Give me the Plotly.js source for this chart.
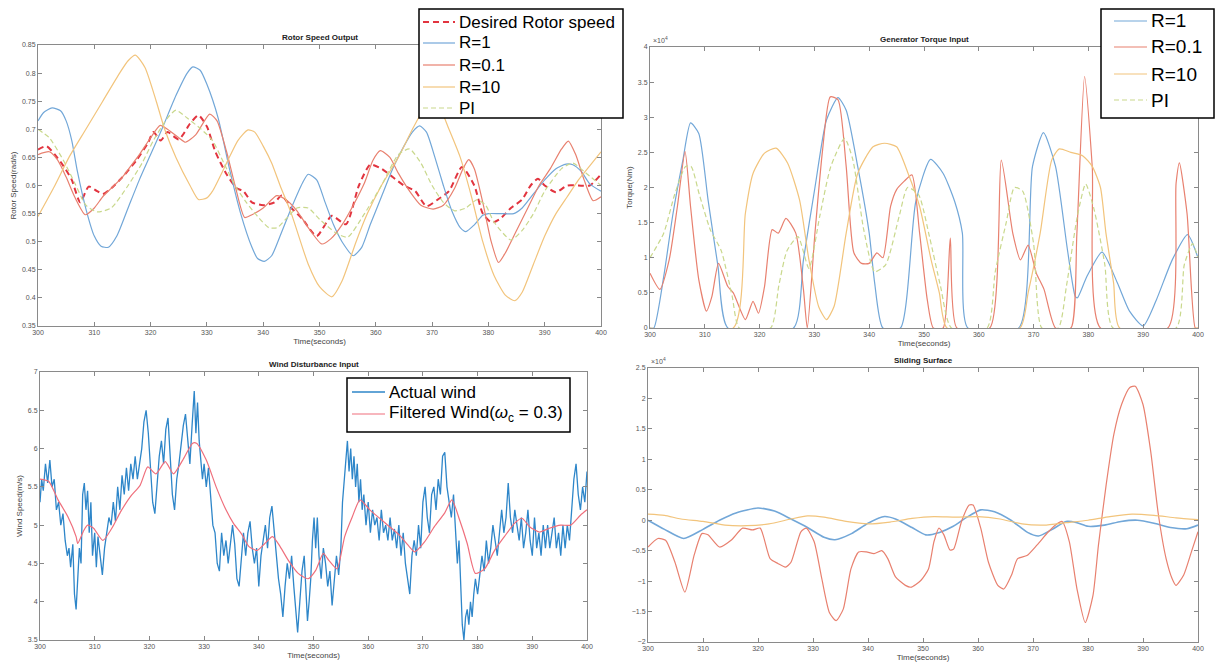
<!DOCTYPE html>
<html>
<head>
<meta charset="utf-8">
<script src="https://cdn.plot.ly/plotly-3.0.1.min.js"></script>
<style>html,body{margin:0;padding:0;background:#fff}#chart{width:1215px;height:671px}</style>
</head>
<body>
<div id="chart"></div>
<script>
// ---------- Rotor Speed Output (rad/s) ----------
const rotorDesiredT = [300,301.5,303,304.5,306,307.5,309,310.5,311.5,313,315,317.5,319.5,320.5,321.8,323,325,327,328.5,330,331.5,333.5,335.3,336.5,338,340,342,343.3,345,347,349.5,352.2,354.7,357,359,361,363,365,367,369,371,373,375.3,377.5,379,380.6,382,384,386,387.5,388.8,390,392,394,396,398,400];
const rotorDesired  = [0.664,0.67,0.655,0.635,0.61,0.57,0.598,0.59,0.585,0.595,0.615,0.645,0.675,0.695,0.68,0.695,0.682,0.71,0.725,0.705,0.66,0.62,0.595,0.59,0.57,0.565,0.57,0.582,0.56,0.54,0.51,0.546,0.531,0.6,0.637,0.63,0.615,0.6,0.59,0.563,0.575,0.59,0.633,0.6,0.55,0.534,0.54,0.56,0.575,0.6,0.612,0.6,0.588,0.6,0.6,0.6,0.62];
const rotorR1T = [300,301,302.5,304,305,306,307,308.6,310,311.2,312.5,314,316,318,320,322,324.5,326.5,327.5,328.8,330,332,334,336,338,339,340.2,341.5,343,345,347,348,349.5,351,352.5,354,356,357.5,359,361,363,365,366.5,367.8,369,370.5,372,373.5,375,376,377.5,379,380,382,384.5,386,388,390,392,393.8,395,396.5,398,400];
const rotorR1  = [0.715,0.73,0.738,0.733,0.715,0.68,0.625,0.555,0.51,0.492,0.49,0.51,0.56,0.61,0.655,0.7,0.76,0.8,0.811,0.805,0.78,0.72,0.63,0.55,0.49,0.47,0.465,0.475,0.51,0.56,0.605,0.62,0.61,0.57,0.53,0.5,0.475,0.49,0.53,0.58,0.63,0.67,0.695,0.706,0.695,0.65,0.6,0.555,0.525,0.518,0.53,0.547,0.55,0.55,0.55,0.56,0.585,0.61,0.63,0.638,0.637,0.625,0.603,0.59];
const rotorR01T = [300,302,303.5,305,306.5,308.4,310,311.5,313,315,316.5,318,320,321.7,323,325,326.2,328,330.5,331.8,333.5,335,336.7,338,340,342.4,344,346,348,350.4,352,354,356,358,359.5,360.8,362.5,364,366,368,370.2,372,374,375.5,376.5,377.5,379,380.5,381.8,383,385,387,389,391,393,394.2,395.5,397,398.6,400];
const rotorR01  = [0.655,0.66,0.645,0.615,0.58,0.548,0.56,0.58,0.595,0.615,0.635,0.655,0.685,0.707,0.7,0.685,0.677,0.69,0.727,0.715,0.66,0.6,0.543,0.548,0.56,0.582,0.575,0.555,0.525,0.496,0.505,0.53,0.565,0.605,0.645,0.662,0.65,0.622,0.59,0.565,0.558,0.565,0.595,0.63,0.646,0.63,0.57,0.5,0.463,0.48,0.52,0.56,0.6,0.63,0.665,0.679,0.655,0.61,0.573,0.58];
const rotorR10T = [300,303,305.5,308.5,311.5,314.5,316,317.3,319,321,322.5,324.5,327,328.5,330,331,333.5,335.5,337.3,338.5,340,341.5,343,345,348,350,352.2,354,356.5,358.5,361,364,366.5,368.5,370,371.5,373,375,377,379,381,383,384.7,386,388,390,392,394,396,398,400];
const rotorR10  = [0.545,0.6,0.65,0.7,0.75,0.8,0.822,0.832,0.81,0.75,0.7,0.65,0.6,0.575,0.578,0.59,0.64,0.68,0.699,0.695,0.67,0.64,0.6,0.55,0.46,0.42,0.402,0.43,0.5,0.55,0.6,0.65,0.7,0.735,0.745,0.735,0.7,0.65,0.58,0.5,0.44,0.405,0.395,0.41,0.46,0.51,0.55,0.58,0.61,0.635,0.66];
const rotorPIT = [300,302,304.5,306.5,308.5,310.5,313,316,318.5,320.5,323,324.5,326.5,329,331,333,335,337,339,341,342.5,344,346,348,350,353,355,358,361,364,366,368,370,372,374,376,378,379.5,381,384,386,388,390,393,395,397,400];
const rotorPI  = [0.7,0.685,0.645,0.605,0.565,0.553,0.56,0.6,0.64,0.68,0.72,0.734,0.72,0.7,0.68,0.64,0.6,0.57,0.545,0.525,0.525,0.54,0.56,0.56,0.54,0.515,0.508,0.55,0.6,0.655,0.665,0.64,0.6,0.57,0.555,0.56,0.575,0.565,0.535,0.503,0.52,0.55,0.59,0.63,0.64,0.625,0.6];

// ---------- Generator Torque Input (x10^4 Nm) ----------
const torqR1T = [300,300.7,302.5,304.2,306,307.4,308.9,310.6,312.4,314.2,326.2,328,330.1,332.2,334.3,335.8,337.9,340,341,342.5,345.7,348.5,351.2,353.5,355.6,357,358,367.3,369.8,371.8,374,376.2,377.6,378,379.7,382.5,385.3,387.5,390,392.4,395.3,398.1,400];
const torqR1  = [0,0,0.73,1.63,2.39,2.92,2.77,1.82,0.88,0,0,0.97,2.0,2.96,3.28,3.1,2.3,1.35,0.64,0,0,1.8,2.4,2.2,1.8,1.35,0,0,2.3,2.78,2.3,1.1,0.45,0.43,0.73,1.08,0.64,0.24,0.03,0.4,0.97,1.33,1.0];
const torqR01T = [300,301.8,303.5,305,306.4,307.4,308.9,310.3,311.3,312.5,314.2,315.2,317.4,318.8,319.8,320.9,322.3,323.4,324.8,326.6,328,328.7,330.1,331.5,332.9,334.3,335.8,337.2,338.6,340,341.4,342.5,343.9,345,346.4,347.8,349.2,350.6,351.7,353.5,354.8,356,362,364.1,366.2,367.6,369,370.5,371.9,374,376.8,377.9,379.3,380.7,382.2,394.5,396,396.6,398,399.5,400];
const torqR01  = [0.78,0.55,0.97,1.73,2.51,1.73,0.69,0.24,0.45,0.92,0.59,0.5,0.12,0.38,0.21,0.59,1.4,1.35,1.56,1.35,0.55,0,1.35,2.54,3.29,3.25,2.3,1.07,0.92,0.92,1.07,1.0,1.73,1.97,2.09,2.18,1.35,0.4,0,0,1.28,0,0,2.39,1.35,0.97,1.18,0.78,0.55,0,0,1.35,3.58,2.3,0,0,2.06,2.35,1.63,0,0];
const torqR10T = [300,315.2,317.4,318.8,320.9,323,325.1,327.3,329,330.8,332.2,333.6,335.8,337.9,340.7,342.8,345,347.1,349.2,351.3,352.8,354.2,367.5,369,371.2,373.3,374.7,376.8,379,380.7,382.2,383.2,384.6,385.7,400];
const torqR10  = [0,0,1.63,2.2,2.49,2.56,2.35,1.82,0.97,0.3,0.12,0.31,1.35,2.2,2.58,2.63,2.58,2.2,1.73,0.97,0.5,0,0,0.5,1.35,2.39,2.55,2.5,2.45,2.3,2.0,1.35,0.64,0,0];
const torqPIT = [300,302.5,304.5,306.5,307.5,309,311,313,315,316.3,322,323.5,325,327,329,331,333,335.5,337,339,341,343,345.5,347,349,351,353,355,361.5,363,365,366.5,368,370,371.5,374.5,376,378,379.5,381,383,384.5,396,397.5,399,400];
const torqPI  = [1.0,1.35,1.9,2.3,2.3,1.9,1.4,1.1,0.45,0,0,0.6,1.1,1.3,0.85,1.6,2.3,2.7,2.4,1.4,0.8,0.9,1.6,2.0,1.9,1.3,0.6,0,0,0.8,1.5,2.0,1.95,1.2,0,0,0.6,1.6,2.05,1.7,0.9,0,0,0.9,1.2,1.0];

// ---------- Wind Disturbance Input (m/s) ----------
const windT = [300,300.3,300.6,301,301.4,301.8,302.2,302.6,303,303.4,303.8,304.2,304.6,305,305.3,305.6,306,306.3,306.6,306.9,307.2,307.5,307.8,308.1,308.4,308.7,309,309.3,309.6,310,310.3,310.6,311,311.4,311.8,312.2,312.6,313,313.4,313.8,314.2,314.6,315,315.4,315.8,316.2,316.6,317,317.4,317.8,318.2,318.6,319,319.4,319.8,320.2,320.6,321,321.4,321.8,322.2,322.6,323,323.4,323.8,324.2,324.6,325,325.4,325.8,326.2,326.6,327,327.4,327.8,328.2,328.5,328.8,329.1,329.4,329.7,330,330.4,330.8,331.2,331.6,332,332.4,332.8,333.2,333.6,334,334.4,334.8,335.2,335.6,336,336.4,336.8,337.2,337.6,338,338.4,338.8,339.2,339.6,340,340.4,340.8,341.2,341.6,342,342.4,342.8,343.2,343.6,344,344.4,344.8,345.2,345.6,346,346.4,346.8,347.1,347.5,347.9,348.3,348.6,348.9,349.2,349.5,349.8,350.1,350.4,350.7,351,351.4,351.8,352.2,352.6,353,353.4,353.8,354.2,354.6,355,355.3,355.6,355.9,356.2,356.5,356.8,357.1,357.4,357.7,358,358.3,358.6,358.9,359.2,359.6,360,360.4,360.8,361.2,361.6,362,362.4,362.8,363.2,363.6,364,364.4,364.8,365.2,365.6,366,366.4,366.8,367.2,367.6,368,368.4,368.8,369.2,369.6,370,370.4,370.8,371.2,371.6,372,372.4,372.8,373.2,373.6,374,374.4,374.8,375.2,375.6,376,376.3,376.6,376.9,377.2,377.5,377.8,378.1,378.4,378.7,379,379.3,379.6,380,380.4,380.8,381.2,381.6,382,382.4,382.8,383.2,383.6,384,384.4,384.8,385.2,385.6,386,386.4,386.8,387.2,387.6,388,388.4,388.8,389.2,389.6,390,390.4,390.8,391.2,391.6,392,392.4,392.8,393.2,393.6,394,394.4,394.8,395.2,395.6,396,396.4,396.8,397.2,397.6,398,398.4,398.8,399.2,399.6,400];
const windActual = [5.3,5.6,5.45,5.8,5.55,5.85,5.5,5.6,5.2,5.3,5.0,5.15,4.8,4.6,4.7,4.45,4.75,4.1,3.9,4.3,4.7,4.5,5.4,5.55,5.2,5.45,4.9,5.3,4.6,4.9,4.45,4.85,4.6,4.35,4.7,4.9,5.1,5.0,5.3,5.05,5.5,5.2,5.65,5.4,5.75,5.45,5.8,5.6,5.9,5.6,5.8,6.0,6.35,6.5,6.2,5.8,5.3,5.15,5.6,5.9,6.1,5.8,6.25,6.4,5.9,5.4,5.2,5.6,5.8,6.05,6.3,6.45,6.1,5.8,6.3,6.75,6.2,6.6,6.1,5.8,5.6,5.8,5.5,5.75,5.3,5.0,4.9,4.5,4.4,4.9,4.6,4.8,4.5,4.75,5.0,4.75,4.3,4.2,4.6,4.9,4.6,4.9,5.05,4.7,4.5,4.7,4.2,4.6,4.8,5.0,4.7,5.1,5.25,4.9,4.6,4.3,4.1,3.8,4.2,4.5,4.3,4.6,4.2,3.9,3.6,4.0,4.4,4.6,4.2,3.75,4.0,4.3,4.8,5.1,4.7,5.1,4.6,4.3,4.7,4.5,4.2,4.4,3.95,4.3,4.6,4.35,4.7,5.3,5.6,5.9,6.1,5.7,6.0,5.6,5.9,5.5,5.8,5.3,5.6,5.2,5.4,5.0,5.3,4.9,5.2,5.0,5.1,4.8,5.2,4.9,5.0,4.8,5.1,4.8,4.95,4.7,5.0,4.6,4.9,4.5,4.3,4.1,4.6,4.8,4.6,5.0,4.7,5.3,5.5,5.1,4.9,5.4,5.5,5.2,5.6,5.4,5.9,5.95,5.5,5.3,5.1,5.4,4.8,4.5,4.8,4.2,3.7,3.5,3.8,3.9,3.7,4.0,3.8,4.1,4.3,4.1,4.4,4.6,4.4,4.8,4.5,4.7,5.0,4.8,4.6,4.9,5.2,4.9,5.1,5.55,5.1,4.9,5.2,5.0,4.8,5.1,4.7,4.9,5.2,4.8,4.6,5.1,4.7,4.9,4.6,5.0,4.7,5.0,4.7,4.9,5.1,4.7,4.9,4.6,5.0,4.7,5.0,4.8,5.2,5.6,5.8,5.4,5.2,5.5,5.3,5.7];
const windFiltT = [300,301.6,303.3,305.1,306.6,306.9,308,308.7,309.8,311.5,313.3,314.7,316.5,318.3,319.7,321.2,322.9,324.4,326.1,327.9,328.6,330.4,332.2,334,335.4,336.8,338.2,339.7,341.1,342.5,343.9,345.4,347.2,349,350.4,351.8,352.8,354.3,355.7,357.1,358.5,360.3,362.1,363.9,365.7,367.5,368.5,370.3,372.1,373.9,375.3,376.7,378.1,379.6,381.3,383.1,384.9,386.7,388.1,389.5,391.3,393.1,395.2,397,398.8,400];
const windFiltered = [5.6,5.57,5.33,5.11,4.85,4.76,4.93,5.0,4.96,4.8,4.98,5.17,5.37,5.52,5.76,5.67,5.83,5.67,5.85,6.07,6.07,5.85,5.5,5.2,5.02,4.89,4.72,4.67,4.76,4.85,4.72,4.54,4.37,4.3,4.41,4.63,4.54,4.43,4.85,5.11,5.33,5.2,5.09,4.98,4.87,4.72,4.65,4.78,4.98,5.15,5.33,5.07,4.76,4.37,4.43,4.67,4.85,5.02,5.09,4.98,4.91,4.96,5.0,5.0,5.13,5.2];

// ---------- Sliding Surface (x10^4) ----------
const slideR01T = [300,301.8,303.2,304.9,306.7,308.4,309.8,310.9,313,315.1,317.2,319,320.4,322.2,323.6,325,326,327.8,328.8,330.2,331.6,333,334.2,335.5,336.9,338.3,339.7,341.1,342.5,343.6,345,346.8,347.8,349.6,351,352,352.9,353.8,354.9,355.6,357,358.4,359.1,360.5,361.9,363.6,364.7,366.1,367.2,368.9,370.7,372.8,374.5,375.3,376.6,378,379.5,380.9,381.9,383.3,384.7,386.1,387.6,388.6,390,391.4,392.8,394.2,395.3,396,397.4,398.8,400];
const slideR01  = [-0.44,-0.3,-0.33,-0.69,-1.18,-0.57,-0.22,-0.24,-0.44,-0.33,-0.13,-0.16,-0.13,-0.63,-0.71,-0.77,-0.69,-0.19,-0.13,-0.35,-0.96,-1.52,-1.65,-1.46,-0.8,-0.52,-0.52,-0.55,-0.5,-0.63,-0.93,-1.07,-1.1,-0.99,-0.8,-0.35,-0.13,-0.24,-0.49,-0.47,-0.02,0.25,0.25,-0.13,-0.69,-1.07,-1.13,-0.9,-0.63,-0.58,-0.41,-0.19,-0.05,-0.02,-0.35,-1.13,-1.68,-1.24,-0.41,0.58,1.41,1.9,2.18,2.2,1.9,1.13,0.09,-0.63,-0.96,-1.07,-0.9,-0.52,-0.19];
const slideR1T = [300,303,306.5,310,313,316,320,323,326,329,332,334,337,340,343,345,348,350.5,353,355.5,358,360.5,363,366,369,371,373.5,376,378,380,383,386,389,392,395,398,400];
const slideR1  = [0,-0.15,-0.3,-0.15,0,0.12,0.2,0.15,0.02,-0.12,-0.28,-0.32,-0.22,-0.05,0.06,0.02,-0.12,-0.24,-0.2,-0.1,0.05,0.17,0.14,0.0,-0.2,-0.26,-0.15,-0.02,-0.04,-0.1,-0.08,-0.02,0.0,-0.05,-0.12,-0.14,-0.08];
const slideR10T = [300,303,306,310,314,318,322,326,329,332,336,340,344,348,352,356,360,364,368,372,376,380,384,388,392,396,400];
const slideR10  = [0.1,0.08,0.02,-0.02,-0.08,-0.09,-0.06,0.02,0.07,0.05,-0.02,-0.06,-0.03,0.03,0.06,0.05,0.06,0.02,-0.06,-0.08,-0.04,0.0,0.06,0.1,0.08,0.04,0.01];

const xTicks = [300,310,320,330,340,350,360,370,380,390,400];
const rotorLegendNames = ['Desired Rotor speed','R=1','R=0.1','R=10','PI'];
const torqueLegendNames = ['R=1','R=0.1','R=10','PI'];
const windLegendNames = ['Actual wind','Filtered Wind(<i>ω</i><sub>c</sub> = 0.3)'];

// ---------- styling ----------
const C = {blue:'#72a7d8', red:'#e8806f', yellow:'#f2c47c', pi:'#c9d88c', desired:'#e2343f', wind:'#2e86c9', filt:'#ef6f7c'};
const S = {
  desired: {color: C.desired, width: 2, dash: '6px,4px'},
  r1: {color: C.blue, width: 1.2, dash: 'solid'},
  r01: {color: C.red, width: 1.2, dash: 'solid'},
  r10: {color: C.yellow, width: 1.2, dash: 'solid'},
  pi: {color: C.pi, width: 1.2, dash: '5px,3px'},
  wind: {color: C.wind, width: 1.3, dash: 'solid'},
  filt: {color: C.filt, width: 1.2, dash: 'solid'}
};

function tr(t, y, name, st, xa, ya, shape) {
  return {x: t, y: y, name: name, type: 'scatter', mode: 'lines', xaxis: xa, yaxis: ya, showlegend: false,
    line: {color: st.color, width: st.width, dash: st.dash, shape: shape || 'spline', smoothing: 0.6}};
}

const data = [
  tr(rotorDesiredT, rotorDesired, rotorLegendNames[0], S.desired, 'x', 'y'),
  tr(rotorR1T, rotorR1, 'R=1', S.r1, 'x', 'y'),
  tr(rotorR01T, rotorR01, 'R=0.1', S.r01, 'x', 'y'),
  tr(rotorR10T, rotorR10, 'R=10', S.r10, 'x', 'y'),
  tr(rotorPIT, rotorPI, 'PI', S.pi, 'x', 'y'),

  tr(torqR1T, torqR1, 'R=1', S.r1, 'x2', 'y2'),
  tr(torqR01T, torqR01, 'R=0.1', S.r01, 'x2', 'y2'),
  tr(torqR10T, torqR10, 'R=10', S.r10, 'x2', 'y2'),
  tr(torqPIT, torqPI, 'PI', S.pi, 'x2', 'y2'),

  tr(windT, windActual, 'Actual wind', S.wind, 'x3', 'y3', 'linear'),
  tr(windFiltT, windFiltered, 'Filtered Wind', S.filt, 'x3', 'y3'),

  tr(slideR1T, slideR1, 'R=1', {color: C.blue, width: 1.6, dash: 'solid'}, 'x4', 'y4'),
  tr(slideR01T, slideR01, 'R=0.1', S.r01, 'x4', 'y4'),
  tr(slideR10T, slideR10, 'R=10', S.r10, 'x4', 'y4')
];

const W = 1215, H = 671;
const px = v => v / W, py = v => 1 - v / H;
const FAM = 'Liberation Sans, Arial, sans-serif';
const tickFont = {family: FAM, size: 7, color: '#555'};
const labFont = {family: FAM, size: 8, color: '#444'};

function xax(l, r, anchor) {
  return {domain: [px(l), px(r)], anchor: anchor, range: [300, 400], tickvals: xTicks,
    ticks: 'inside', ticklen: 4, tickcolor: '#888', showline: true, linecolor: '#8a8a8a', linewidth: 1,
    mirror: 'ticks', showgrid: false, zeroline: false, tickfont: tickFont,
    title: {text: 'Time(seconds)', font: labFont, standoff: 2}};
}
function yax(top, bot, anchor, range, dtick, title) {
  const a = {domain: [py(bot), py(top)], anchor: anchor, range: range, dtick: dtick, tick0: range[0],
    ticks: 'inside', ticklen: 4, tickcolor: '#888', showline: true, linecolor: '#8a8a8a', linewidth: 1,
    mirror: 'ticks', showgrid: false, zeroline: false, tickfont: tickFont};
  if (title) a.title = {text: title, font: labFont, standoff: 4};
  return a;
}

const shapes = [], annotations = [];
function legendBox(box, lineX, textX, fontSize, items) {
  shapes.push({type: 'rect', xref: 'paper', yref: 'paper', layer: 'above',
    x0: px(box[0]), x1: px(box[2]), y0: py(box[3]), y1: py(box[1]),
    fillcolor: '#ffffff', line: {color: '#000', width: 1.5}});
  items.forEach(it => {
    shapes.push({type: 'line', xref: 'paper', yref: 'paper', layer: 'above',
      x0: px(lineX[0]), x1: px(lineX[1]), y0: py(it.y), y1: py(it.y),
      line: {color: it.st.color, width: it.st.width, dash: it.st.dash}});
    annotations.push({text: it.text, xref: 'paper', yref: 'paper', x: px(textX), y: py(it.y),
      xanchor: 'left', yanchor: 'middle', showarrow: false, font: {family: FAM, size: fontSize, color: '#000'}});
  });
}
legendBox([419, 9, 623, 118], [423, 455], 457, 17, [
  {y: 22, st: S.desired, text: rotorLegendNames[0]},
  {y: 43, st: S.r1, text: rotorLegendNames[1]},
  {y: 65, st: S.r01, text: rotorLegendNames[2]},
  {y: 87, st: S.r10, text: rotorLegendNames[3]},
  {y: 108, st: S.pi, text: rotorLegendNames[4]}
]);
legendBox([1101, 9, 1214, 118], [1114, 1147], 1149, 19, [
  {y: 21, st: S.r1, text: torqueLegendNames[0]},
  {y: 47, st: S.r01, text: torqueLegendNames[1]},
  {y: 74, st: S.r10, text: torqueLegendNames[2]},
  {y: 100, st: S.pi, text: torqueLegendNames[3]}
]);
legendBox([347, 378, 570, 432], [352, 385], 387, 17, [
  {y: 392, st: S.wind, text: windLegendNames[0]},
  {y: 414, st: S.filt, text: windLegendNames[1]}
]);

const titleFont = {family: FAM, size: 8, color: '#222'};
function ttl(text, l, r, top) {
  annotations.push({text: '<b>' + text + '</b>', xref: 'paper', yref: 'paper', x: px((l + r) / 2), y: py(top - 1),
    xanchor: 'center', yanchor: 'bottom', showarrow: false, font: titleFont});
}
function expo(l, top) {
  annotations.push({text: '×10<sup>4</sup>', xref: 'paper', yref: 'paper', x: px(l + 1), y: py(top - 1),
    xanchor: 'left', yanchor: 'bottom', showarrow: false, font: {family: FAM, size: 7, color: '#555'}});
}
ttl('Rotor Speed Output', 38, 601, 45);
ttl('Generator Torque Input', 650, 1198, 47);
ttl('Wind Disturbance Input', 40, 587, 372);
ttl('Sliding Surface', 648, 1198, 368);
expo(650, 47);
expo(648, 368);

const layout = {
  width: W, height: H, margin: {l: 0, r: 0, t: 0, b: 0},
  paper_bgcolor: '#fff', plot_bgcolor: '#fff', showlegend: false,
  xaxis:  xax(38, 601, 'y'),
  yaxis:  yax(45, 326, 'x', [0.35, 0.85], 0.05, 'Rotor Speed(rad/s)'),
  xaxis2: xax(650, 1198, 'y2'),
  yaxis2: yax(47, 328, 'x2', [0, 4], 0.5, 'Torque(Nm)'),
  xaxis3: xax(40, 587, 'y3'),
  yaxis3: yax(372, 640, 'x3', [3.5, 7], 0.5, 'Wind Speed(m/s)'),
  xaxis4: xax(648, 1198, 'y4'),
  yaxis4: yax(368, 642, 'x4', [-2, 2.5], 0.5, null),
  shapes: shapes,
  annotations: annotations
};

Plotly.newPlot('chart', data, layout, {displayModeBar: false, staticPlot: true});
</script>
</body>
</html>
